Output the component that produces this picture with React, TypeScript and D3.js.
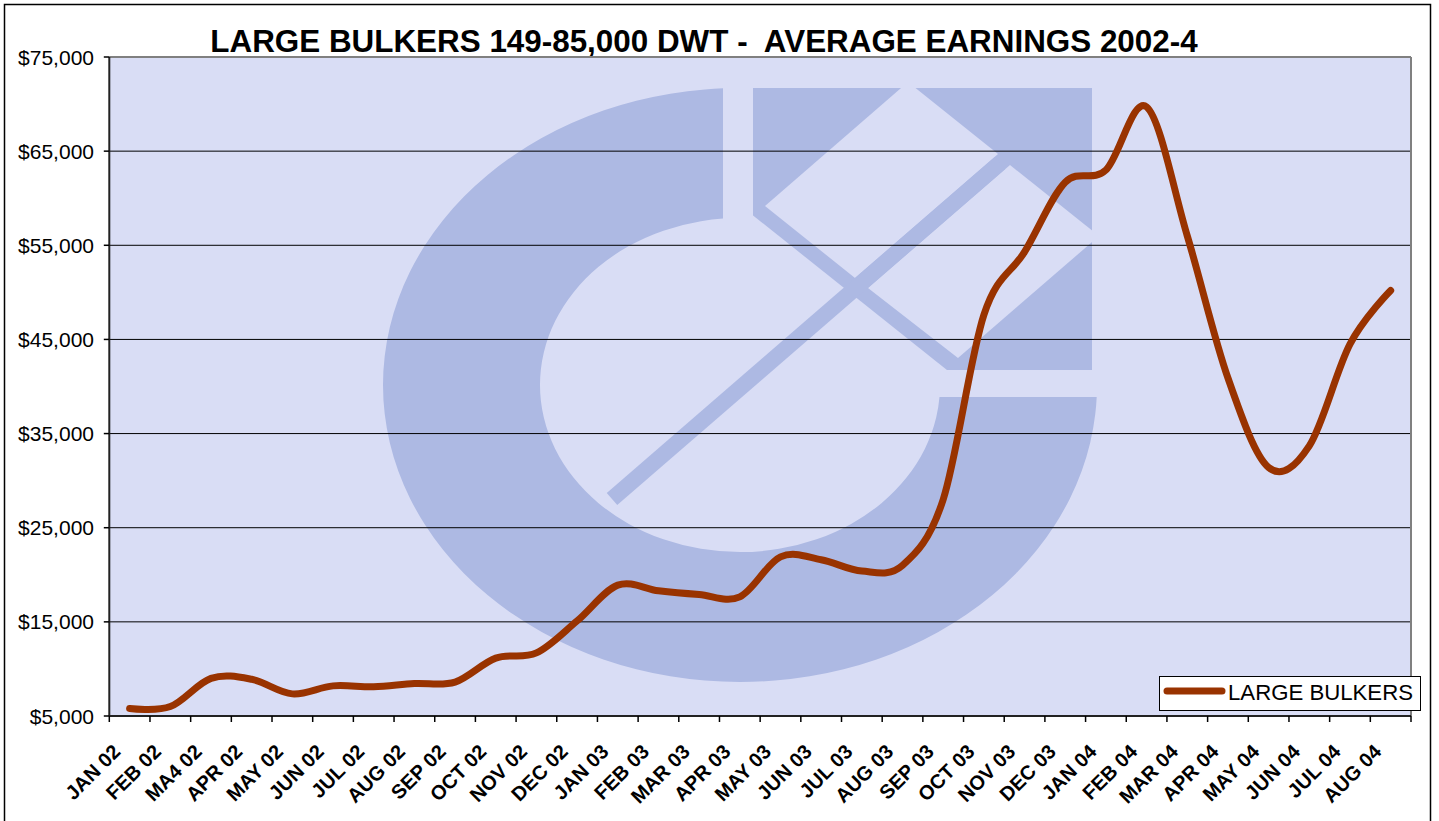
import React from "react";
import * as d3 from "d3";

const categories = [
  "JAN 02", "FEB 02", "MA4 02", "APR 02", "MAY 02", "JUN 02", "JUL 02", "AUG 02",
  "SEP 02", "OCT 02", "NOV 02", "DEC 02", "JAN 03", "FEB 03", "MAR 03", "APR 03",
  "MAY 03", "JUN 03", "JUL 03", "AUG 03", "SEP 03", "OCT 03", "NOV 03", "DEC 03",
  "JAN 04", "FEB 04", "MAR 04", "APR 04", "MAY 04", "JUN 04", "JUL 04", "AUG 04",
];

const largeBulkers = [
  5800, 6000, 9000, 8900, 7350, 8200, 8100, 8450,
  8600, 11150, 11700, 15100, 18900, 18300, 17900, 17650,
  21900, 21600, 20400, 21000, 28000, 47600, 54300, 61700,
  63000, 69700, 56000, 40900, 31400, 33700, 44500, 50200,
];

const yTicks = [5000, 15000, 25000, 35000, 45000, 55000, 65000, 75000];
const gridValues = [15000, 25000, 35000, 45000, 55000, 65000];

const TITLE = "LARGE BULKERS 149-85,000 DWT -  AVERAGE EARNINGS 2002-4";
const SERIES_NAME = "LARGE BULKERS";

const W = 1439;
const H = 821;
const PL = 109.3;
const PR = 1411;
const PT = 57;
const PB = 716;

const BG = "#D9DDF5";
const LOGO = "#ADB9E3";
const LINE = "#993300";
const FONT = "'Liberation Sans', Arial, Helvetica, sans-serif";

export default function App() {
  const x = d3.scaleBand<string>().domain(categories).range([PL, PR]).padding(0);
  const y = d3.scaleLinear().domain([5000, 75000]).range([PB, PT]);
  const bw = x.bandwidth();
  const cx = (c: string) => (x(c) as number) + bw / 2;

  const linePath = d3
    .line<number>()
    .x((_, i) => cx(categories[i]))
    .y((d) => y(d))
    .curve(d3.curveCardinal.tension(0))(largeBulkers) as string;

  const fmt = d3.format("$,");

  // logo geometry (watermark)
  const ecx = 740, ecy = 385;
  const orx = 357, ory = 297, irx = 200, iry = 167;
  const ringPath =
    `M${ecx - orx},${ecy} a${orx},${ory} 0 1,0 ${2 * orx},0 a${orx},${ory} 0 1,0 ${-2 * orx},0 Z ` +
    `M${ecx - irx},${ecy} a${irx},${iry} 0 1,0 ${2 * irx},0 a${irx},${iry} 0 1,0 ${-2 * irx},0 Z`;

  const upperDiamond = "765,206 908,82 998,154 855,278";
  const lowerDiamond = "868,288 1010,165 1099,236 958,358";
  const lowerLeft = "740,205 962,382 740,382";
  const px = 0.655, py = 0.756;
  const sx = 612, sy = 499, ex = 1000, ey = 163, hw = 8;
  const shaft = [
    [sx - hw * px, sy - hw * py],
    [ex - hw * px, ey - hw * py],
    [ex + hw * px, ey + hw * py],
    [sx + hw * px, sy + hw * py],
  ]
    .map((p) => p.join(","))
    .join(" ");

  const boundaries = categories.map((c) => x(c) as number).concat([PR]);

  return (
    <div style={{ position: "absolute", left: 0, top: 0 }}>
      <svg width={W} height={H} style={{ display: "block", background: "#fff" }}>
        <defs>
          <clipPath id="plotClip">
            <rect x={PL} y={PT} width={PR - PL} height={PB - PT} />
          </clipPath>
          <clipPath id="ringClip">
            <polygon points="0,0 723,0 723,397 1500,397 1500,900 0,900" />
          </clipPath>
        </defs>

        {/* outer chart border */}
        <rect x={4.5} y={4.5} width={1426} height={840} fill="#fff" stroke="#000" strokeWidth={1.5} />

        {/* title */}
        <text
          x={704}
          y={52}
          textAnchor="middle"
          fontFamily={FONT}
          fontWeight="bold"
          fontSize={31.4}
          fill="#000"
          style={{ whiteSpace: "pre" }}
        >
          {TITLE}
        </text>

        {/* plot area */}
        <rect x={PL} y={PT} width={PR - PL} height={PB - PT} fill={BG} />
        <g clipPath="url(#plotClip)">
          <g clipPath="url(#ringClip)">
            <path d={ringPath} fill={LOGO} fillRule="evenodd" />
          </g>
          <rect x={753} y={88} width={1092 - 753} height={370 - 88} fill={LOGO} />
          <polygon points={upperDiamond} fill={BG} />
          <polygon points={lowerDiamond} fill={BG} />
          <polygon points={lowerLeft} fill={BG} />
          <polygon points={shaft} fill={LOGO} />
        </g>

        {/* gridlines */}
        {gridValues.map((v) => (
          <line key={v} x1={PL} x2={PR} y1={y(v)} y2={y(v)} stroke="#000" strokeWidth={1} />
        ))}

        {/* plot border top/right */}
        <line x1={PL} x2={PR} y1={PT} y2={PT} stroke="#808080" strokeWidth={2} />
        <line x1={PR} x2={PR} y1={PT} y2={PB} stroke="#808080" strokeWidth={2} />

        {/* series */}
        <path
          d={linePath}
          fill="none"
          stroke={LINE}
          strokeWidth={7}
          strokeLinejoin="round"
          strokeLinecap="round"
          clipPath="url(#plotClip)"
        />

        {/* axes */}
        <line x1={PL} x2={PL} y1={PT} y2={PB} stroke="#222" strokeWidth={2} />
        <line x1={PL} x2={PR} y1={PB} y2={PB} stroke="#222" strokeWidth={2} />
        {yTicks.map((v) => (
          <g key={v}>
            <line x1={PL - 5.5} x2={PL} y1={y(v)} y2={y(v)} stroke="#000" strokeWidth={1.5} />
            <text
              x={94}
              y={y(v) + 7.5}
              textAnchor="end"
              fontFamily={FONT}
              fontSize={21}
              fill="#000"
            >
              {fmt(v)}
            </text>
          </g>
        ))}
        {boundaries.map((b, i) => (
          <line key={i} x1={b} x2={b} y1={PB} y2={PB + 6} stroke="#000" strokeWidth={1.5} />
        ))}
        {categories.map((c) => (
          <text
            key={c}
            transform={`translate(${cx(c) - 8},753) rotate(-45)`}
            textAnchor="end"
            fontFamily={FONT}
            fontWeight="bold"
            fontSize={20}
            fill="#000"
          >
            {c}
          </text>
        ))}

        {/* legend */}
        <rect x={1159.5} y={676.5} width={261} height={34} fill="#fff" stroke="#000" strokeWidth={1} />
        <line x1={1167} x2={1222} y1={691} y2={691} stroke={LINE} strokeWidth={7} strokeLinecap="round" />
        <text x={1228} y={700} fontFamily={FONT} fontSize={22.2} fill="#000">
          {SERIES_NAME}
        </text>
      </svg>
    </div>
  );
}
